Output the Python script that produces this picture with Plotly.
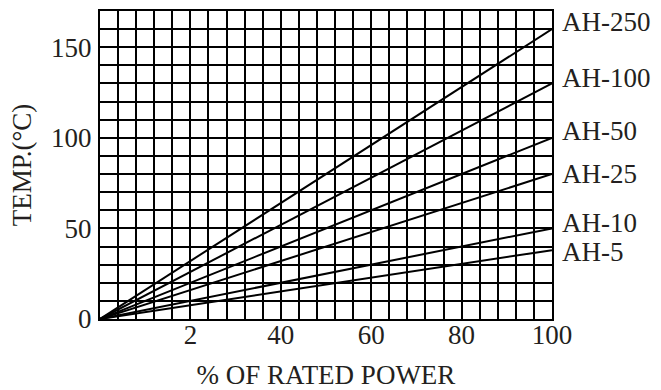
import plotly.graph_objects as go

# Data
power_pct = [0, 100]
series_names = ["AH-250", "AH-100", "AH-50", "AH-25", "AH-10", "AH-5"]
temp_at_full = [160, 130, 100, 80, 50, 38]
label_y = [164, 133, 104, 80, 53, 37]
x_tick_vals = [20, 40, 60, 80, 100]
x_tick_text = ["2", "40", "60", "80", "100"]
y_tick_vals = [0, 50, 100, 150]

FONT = "Liberation Serif"
FS = 27
TXT = "#231f20"

fig = go.Figure()
for name, t in zip(series_names, temp_at_full):
    fig.add_trace(go.Scatter(
        x=power_pct, y=[0, t], mode="lines", name=name,
        line=dict(color="black", width=2), showlegend=False,
        hoverinfo="skip"))

for name, ly in zip(series_names, label_y):
    fig.add_annotation(x=100, y=ly, xref="x", yref="y", text=name,
                       showarrow=False, xanchor="left", yanchor="middle",
                       xshift=8, font=dict(family=FONT, size=FS, color=TXT))

fig.update_xaxes(
    range=[0, 100], tickvals=x_tick_vals, ticktext=x_tick_text,
    showgrid=True, gridcolor="black", gridwidth=1.8,
    minor=dict(tick0=0, dtick=4, showgrid=True, gridcolor="black", gridwidth=1.8),
    showline=True, linecolor="black", linewidth=2, mirror=True,
    ticks="", ticklabelstandoff=-9, zeroline=False, automargin=False,
    tickfont=dict(family=FONT, size=FS, color=TXT),
    title=dict(text="% OF RATED POWER", font=dict(family=FONT, size=FS, color=TXT), standoff=16),
)
fig.update_yaxes(
    range=[0, 170], tickvals=y_tick_vals,
    showgrid=True, gridcolor="black", gridwidth=1.8,
    minor=dict(tick0=0, dtick=10, showgrid=True, gridcolor="black", gridwidth=1.8),
    showline=True, linecolor="black", linewidth=2, mirror=True,
    ticks="", ticklabelstandoff=1, zeroline=False, automargin=False,
    tickfont=dict(family=FONT, size=FS, color=TXT),
    title=dict(text="TEMP.(°C)", font=dict(family=FONT, size=FS, color=TXT), standoff=12),
)
fig.update_layout(
    width=661, height=390,
    margin=dict(l=100, r=109, t=11, b=71, autoexpand=False),
    plot_bgcolor="white", paper_bgcolor="white",
)
fig.write_html("out.html", config={"displayModeBar": False},
               post_script="document.body.style.margin='0';document.body.style.overflow='hidden';")
